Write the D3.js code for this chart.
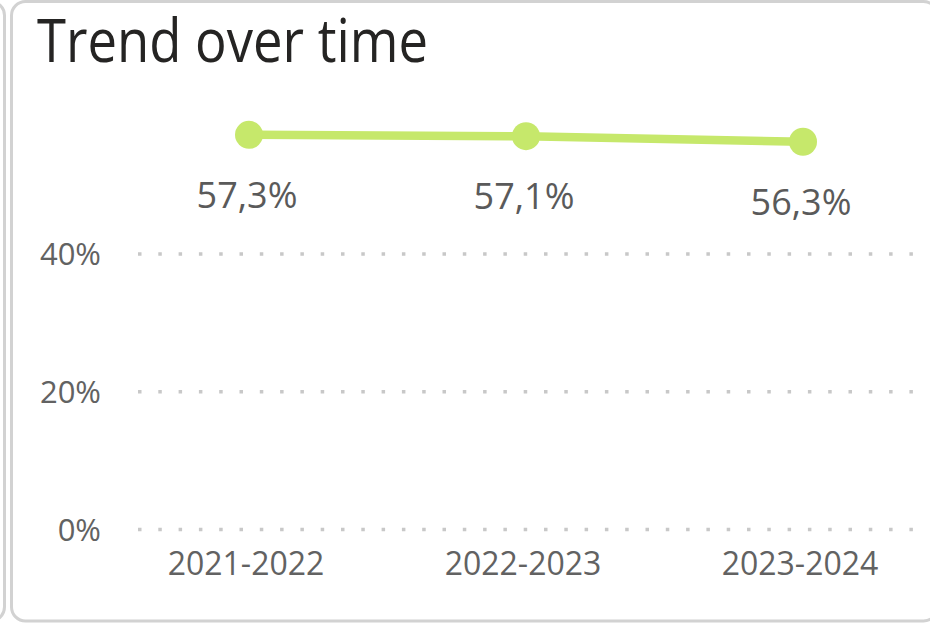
<!DOCTYPE html>
<html>
<head>
<meta charset="utf-8">
<script src="https://cdn.jsdelivr.net/npm/d3@7"></script>
<style>
  html, body { margin: 0; padding: 0; background: #ffffff; }
  svg { display: block; }
</style>
</head>
<body>
<svg id="chart" width="930" height="627"></svg>
<script>
// ---- data ----
const categories = ["2021-2022", "2022-2023", "2023-2024"];
const values = [57.3, 57.1, 56.3];
const valueLabels = ["57,3%", "57,1%", "56,3%"];
const yTicks = [0, 20, 40];
const yTickLabels = ["0%", "20%", "40%"];
const title = "Trend over time";

const svg = d3.select("#chart");
const font = "'Open Sans', 'Segoe UI', sans-serif";

// neighbour card sliver on the left
svg.append("rect")
  .attr("x", -40).attr("y", 1.5).attr("width", 44.5).attr("height", 619.5)
  .attr("rx", 14).attr("fill", "#fff").attr("stroke", "#d2d2d2").attr("stroke-width", 3);

// main card
svg.append("rect")
  .attr("x", 11.5).attr("y", 1.5).attr("width", 926).attr("height", 619.5)
  .attr("rx", 14).attr("fill", "#fff").attr("stroke", "#d2d2d2").attr("stroke-width", 3);

// title
svg.append("text")
  .attr("x", 37).attr("y", 62)
  .attr("font-family", font).attr("font-size", 61)
  .attr("textLength", 391).attr("lengthAdjust", "spacingAndGlyphs")
  .attr("fill", "#252423")
  .text(title);

// scales
const x = d3.scalePoint().domain(categories).range([249, 803]);
const y = d3.scaleLinear().domain([0, 40]).range([529.5, 254]);

// gridlines
const grid = svg.append("g");
grid.selectAll("line").data(yTicks).join("line")
  .attr("x1", 138).attr("x2", 915)
  .attr("y1", d => y(d)).attr("y2", d => y(d))
  .attr("stroke", "#c8c8c8").attr("stroke-width", 3.5)
  .attr("stroke-dasharray", "3.5,16.8");

// y axis labels
svg.append("g").selectAll("text").data(yTicks).join("text")
  .attr("x", 101).attr("y", d => y(d) + 11)
  .attr("text-anchor", "end")
  .attr("font-family", font).attr("font-size", 31)
  .attr("fill", "#626262")
  .text((d, i) => yTickLabels[i]);

// x axis labels
svg.append("g").selectAll("text").data(categories).join("text")
  .attr("x", d => x(d) - 3).attr("y", 575)
  .attr("text-anchor", "middle")
  .attr("font-family", font).attr("font-size", 32)
  .attr("fill", "#626262")
  .text(d => d);

// line
const pts = categories.map((c, i) => ({ c, v: values[i], l: valueLabels[i] }));
svg.append("path")
  .datum(pts)
  .attr("fill", "none")
  .attr("stroke", "#c6e86b")
  .attr("stroke-width", 8.5)
  .attr("d", d3.line().x(d => x(d.c)).y(d => y(d.v)));

svg.append("g").selectAll("circle").data(pts).join("circle")
  .attr("cx", d => x(d.c)).attr("cy", d => y(d.v))
  .attr("r", 14).attr("fill", "#c6e86b");

// data labels
svg.append("g").selectAll("text").data(pts).join("text")
  .attr("x", d => x(d.c) - 2).attr("y", d => y(d.v) + 73)
  .attr("text-anchor", "middle")
  .attr("font-family", font).attr("font-size", 36)
  .attr("fill", "#5a5a5a")
  .text(d => d.l);
</script>
</body>
</html>
